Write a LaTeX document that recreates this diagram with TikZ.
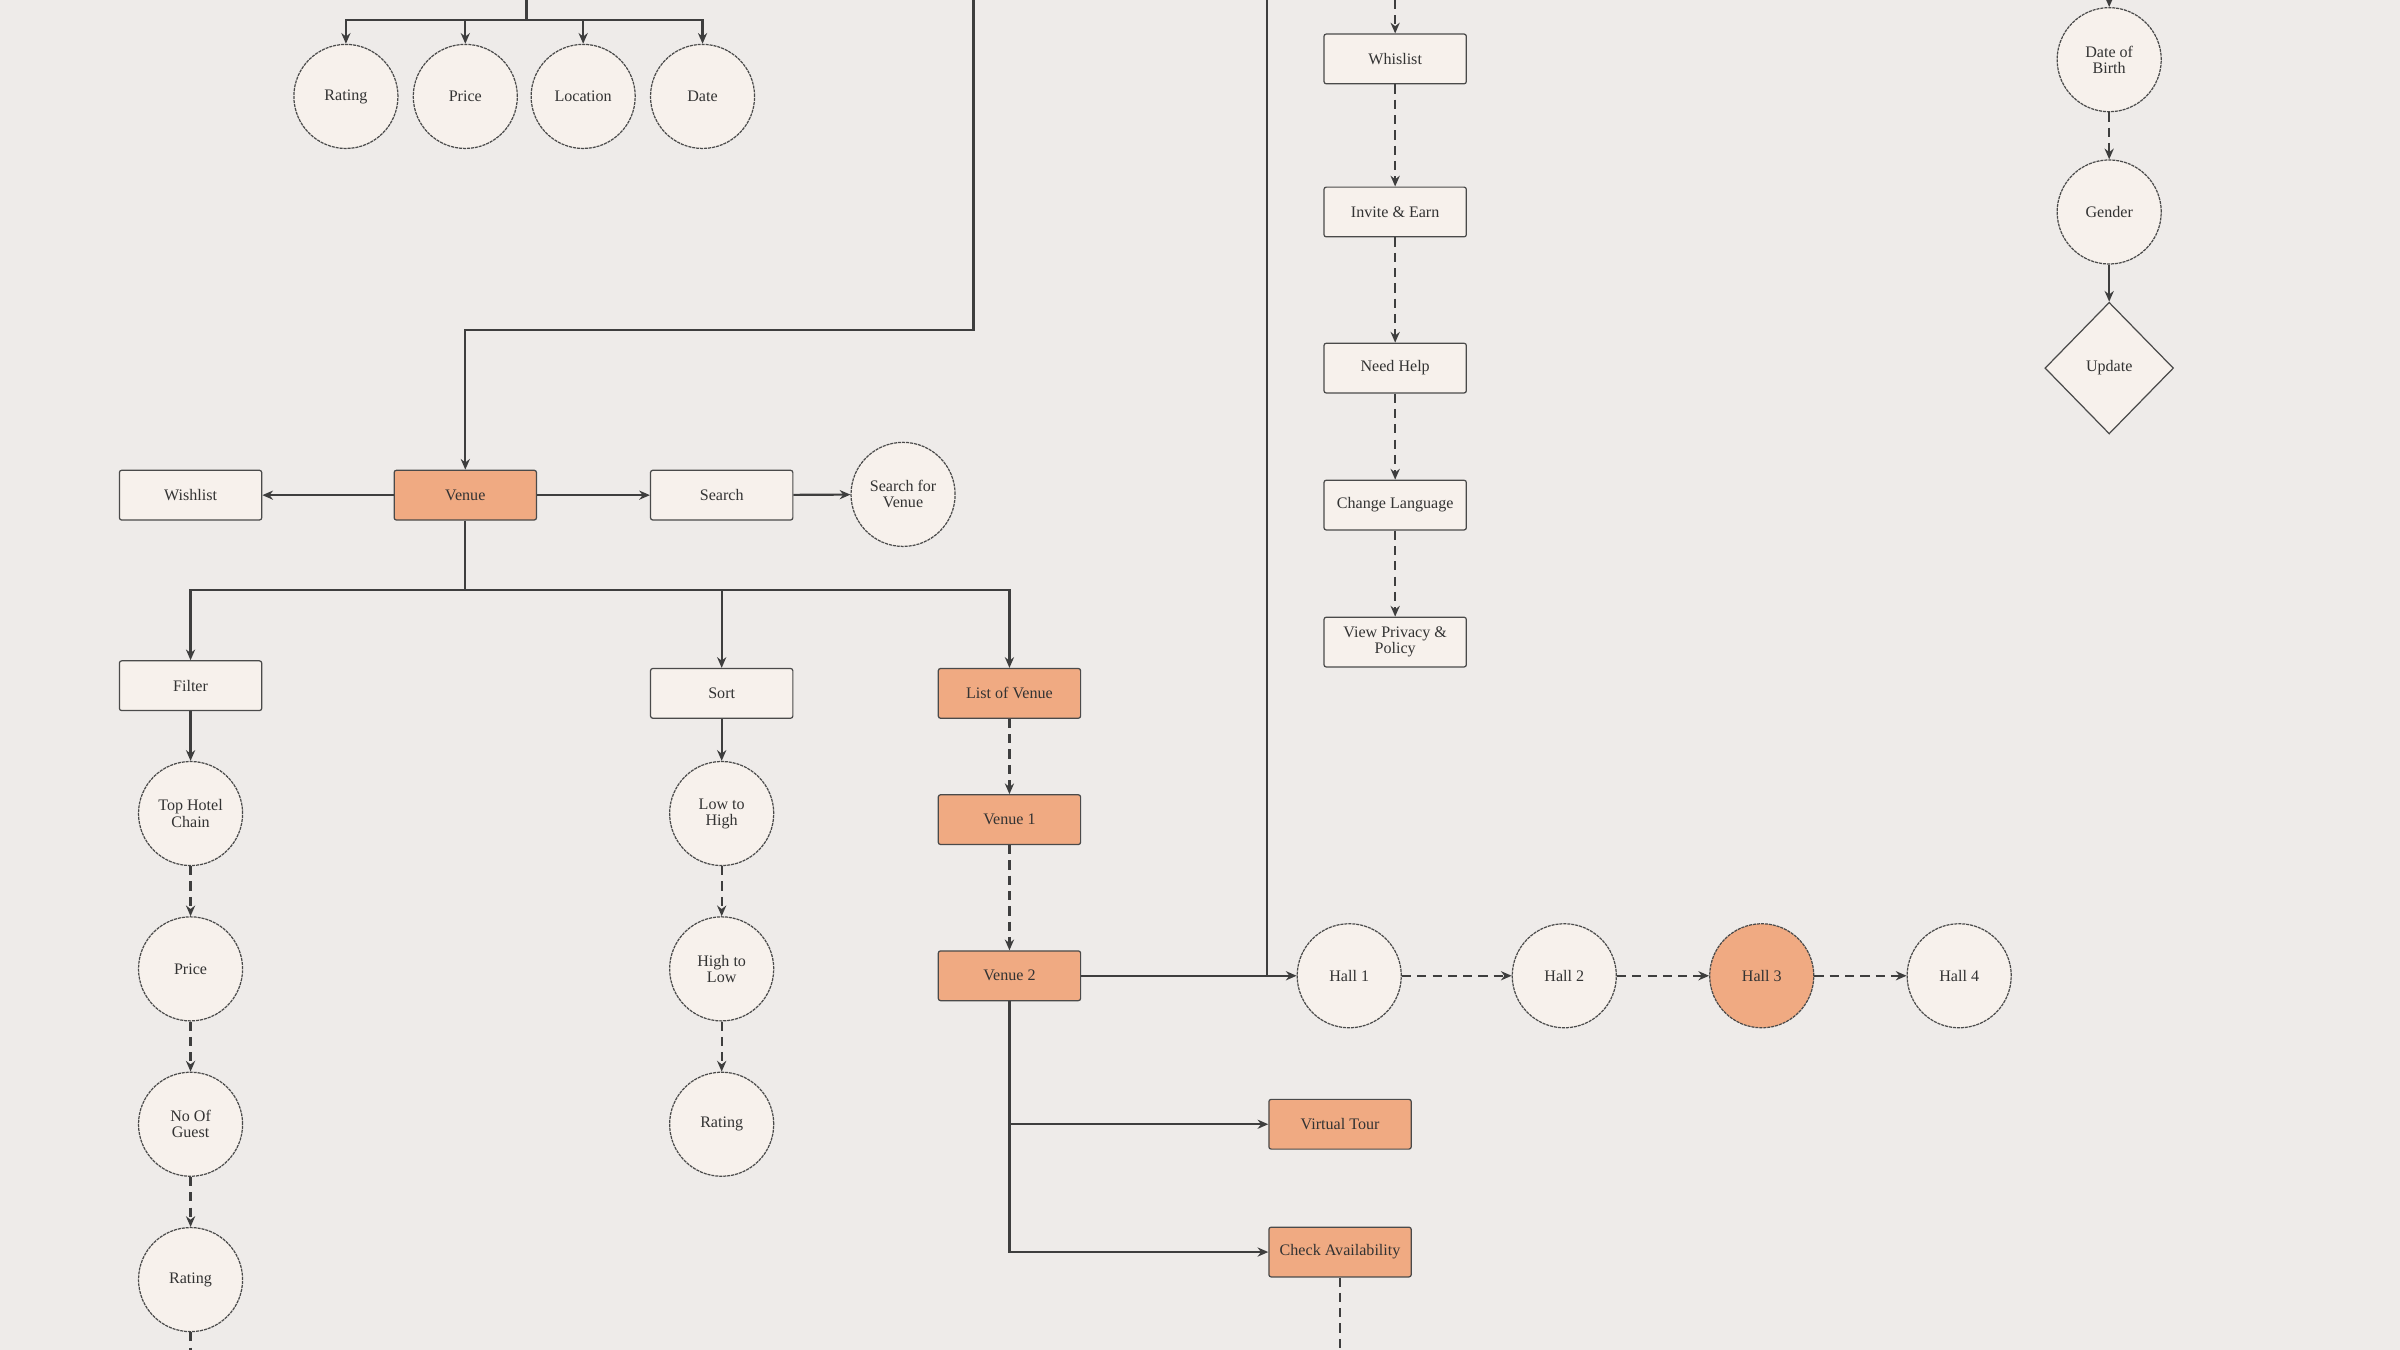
\documentclass[tikz,border=0pt]{standalone}
\usepackage{fontspec}
\setmainfont{Liberation Serif}
\usetikzlibrary{arrows.meta,shapes.geometric,calc}
\definecolor{bgc}{HTML}{EEEBE9}
\definecolor{cream}{HTML}{F7F1EC}
\definecolor{orng}{HTML}{F0AA82}
\definecolor{edge}{HTML}{4A4A4A}
\definecolor{lnc}{HTML}{3E3E3E}
\definecolor{txt}{HTML}{333333}
\tikzset{
  base/.style={draw=edge, line width=0.8pt, fill=cream, text=txt, align=center, inner sep=1pt,
    font=\fontsize{10.5}{10.5}\selectfont},
  box/.style={base, rectangle, rounded corners=1.5pt, minimum width=93pt, minimum height=32.5pt},
  obox/.style={box, fill=orng},
  circ/.style={base, circle, minimum size=68pt, dash pattern=on 2pt off 0.6pt},
  ocirc/.style={circ, fill=orng},
  dia/.style={base, diamond, aspect=1, minimum width=84pt, minimum height=86pt},
  ln/.style={draw=lnc, line width=1.4pt},
  arr/.style={ln, -{Stealth[length=7pt,width=6pt]}},
  darr/.style={arr, dash pattern=on 6pt off 4pt},
  dln/.style={ln, dash pattern=on 6pt off 4pt},
}
\begin{document}
\begin{tikzpicture}[x=1pt,y=-1pt]
\useasboundingbox (0,0) rectangle (1568,882);
\fill[bgc] (0,0) rectangle (1568,882);

% top filters
\node[circ] (rat) at (226,63) {Rating};
\node[circ] (pri) at (304,63) {Price};
\node[circ] (loc) at (381,63) {Location};
\node[circ] (dat) at (459,63) {Date};
\coordinate (t1) at (344,0);
\coordinate (bar) at (344,13);
\draw[ln] (t1) -- (bar);
\draw[arr] (bar) -| (rat);
\draw[arr] (bar) -| (pri);
\draw[arr] (bar) -| (loc);
\draw[arr] (bar) -| (dat);

% venue row
\node[obox] (venue) at (304,323.5) {Venue};
\node[box] (wish) at (124.5,323.5) {Wishlist};
\node[box] (search) at (471.5,323.5) {Search};
\node[circ] (sfv) at (590,323) {Search for\\Venue};
\coordinate (t2) at (636,0);
\draw[arr] (t2) -- (636,215.5) -| (venue);
\draw[arr] (venue) -- (wish);
\draw[arr] (venue) -- (search);
\draw[arr] (search) -- (sfv);

% second level
\node[box] (filter) at (124.5,448) {Filter};
\node[box] (sort) at (471.5,453) {Sort};
\node[obox] (lov) at (659.5,453) {List of Venue};
\coordinate (vj) at (304,385.5);
\draw[ln] (venue.south) -- (vj);
\draw[arr] (vj) -| (filter);
\draw[arr] (vj) -| (sort);
\draw[arr] (vj) -| (lov);

% filter column
\node[circ] (thc) at (124.5,531.5) {Top Hotel\\Chain};
\node[circ] (fpr) at (124.5,633) {Price};
\node[circ] (nog) at (124.5,734.5) {No Of\\Guest};
\node[circ] (frt) at (124.5,836) {Rating};
\coordinate (fend) at (124.5,882);
\draw[arr] (filter) -- (thc);
\draw[darr] (thc) -- (fpr);
\draw[darr] (fpr) -- (nog);
\draw[darr] (nog) -- (frt);
\draw[dln] (frt) -- (fend);

% sort column
\node[circ] (lth) at (471.5,531.5) {Low to\\High};
\node[circ] (htl) at (471.5,633) {High to\\Low};
\node[circ] (srt) at (471.5,734.5) {Rating};
\draw[arr] (sort) -- (lth);
\draw[darr] (lth) -- (htl);
\draw[darr] (htl) -- (srt);

% venues
\node[obox] (v1) at (659.5,535.5) {Venue 1};
\node[obox] (v2) at (659.5,637.5) {Venue 2};
\draw[darr] (lov) -- (v1);
\draw[darr] (v1) -- (v2);

% halls
\node[circ] (h1) at (881.5,637.5) {Hall 1};
\node[circ] (h2) at (1022,637.5) {Hall 2};
\node[ocirc] (h3) at (1151,637.5) {Hall 3};
\node[circ] (h4) at (1280,637.5) {Hall 4};
\coordinate (t3) at (828,0);
\coordinate (hj) at (828,637.5);
\draw[ln] (t3) -- (hj);
\draw[arr] (v2) -- (h1);
\draw[darr] (h1) -- (h2);
\draw[darr] (h2) -- (h3);
\draw[darr] (h3) -- (h4);

% venue 2 branches
\node[obox] (vt) at (875.5,734.5) {Virtual Tour};
\node[obox] (ca) at (875.5,818) {Check Availability};
\coordinate (cend) at (875.5,882);
\draw[arr] (v2.south) |- (vt);
\draw[arr] (v2.south) |- (ca);
\draw[dln] (ca) -- (cend);

% settings column
\node[box] (whis) at (911.5,38.5) {Whislist};
\node[box] (inv) at (911.5,138.5) {Invite \& Earn};
\node[box] (help) at (911.5,240.5) {Need Help};
\node[box] (lang) at (911.5,330) {Change Language};
\node[box] (priv) at (911.5,419.5) {View Privacy \&\\Policy};
\coordinate (t4) at (911.5,0);
\draw[darr] (t4) -- (whis);
\draw[darr] (whis) -- (inv);
\draw[darr] (inv) -- (help);
\draw[darr] (help) -- (lang);
\draw[darr] (lang) -- (priv);

% profile column
\node[circ] (dob) at (1378,39) {Date of\\Birth};
\node[circ] (gen) at (1378,138.5) {Gender};
\node[dia] (upd) at (1378,240.5) {Update};
\coordinate (t5) at (1378,0);
\draw[arr] (t5) -- (dob);
\draw[darr] (dob) -- (gen);
\draw[arr] (gen) -- (upd);
\end{tikzpicture}
\end{document}
